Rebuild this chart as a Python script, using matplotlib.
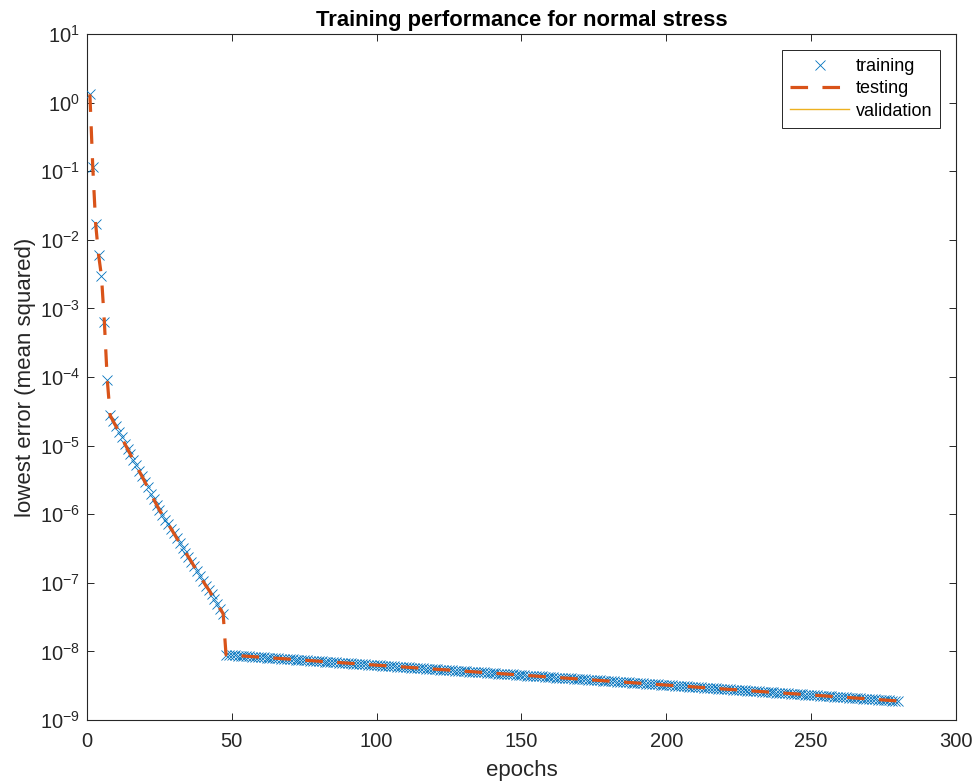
import numpy as np
import matplotlib
matplotlib.use('Agg')
import matplotlib.pyplot as plt

plt.rcParams['font.family'] = ['Liberation Sans', 'DejaVu Sans']

# epochs 1..280, errors as log10 values
epochs = np.arange(1, 281)

# first epochs, one marker each (1..7)
early_log10 = [0.12, -0.94, -1.77, -2.22, -2.53, -3.20, -4.04]

# steady part before the drop (8..47)
mid_log10 = [-4.56, -4.64, -4.72, -4.80, -4.88, -4.97, -5.05, -5.13, -5.21, -5.29,
             -5.37, -5.45, -5.53, -5.61, -5.70, -5.78, -5.86, -5.94, -6.01, -6.08,
             -6.14, -6.21, -6.28, -6.35, -6.42, -6.49, -6.56, -6.62, -6.69, -6.76,
             -6.83, -6.90, -6.97, -7.04, -7.10, -7.17, -7.24, -7.31, -7.38, -7.45]

# long tail after the drop (48..280)
tail_log10 = [
    -8.050, -8.053, -8.056, -8.059, -8.062, -8.064, -8.067, -8.070, -8.073, -8.076,
    -8.079, -8.082, -8.085, -8.088, -8.091, -8.093, -8.096, -8.099, -8.102, -8.105,
    -8.108, -8.111, -8.114, -8.117, -8.120, -8.122, -8.125, -8.128, -8.131, -8.134,
    -8.137, -8.140, -8.143, -8.146, -8.149, -8.151, -8.154, -8.157, -8.160, -8.163,
    -8.166, -8.169, -8.172, -8.175, -8.178, -8.180, -8.183, -8.186, -8.189, -8.192,
    -8.195, -8.198, -8.201, -8.204, -8.207, -8.209, -8.212, -8.215, -8.218, -8.221,
    -8.224, -8.227, -8.230, -8.233, -8.236, -8.238, -8.241, -8.244, -8.247, -8.250,
    -8.253, -8.256, -8.259, -8.262, -8.265, -8.267, -8.270, -8.273, -8.276, -8.279,
    -8.282, -8.285, -8.288, -8.291, -8.294, -8.296, -8.299, -8.302, -8.305, -8.308,
    -8.311, -8.314, -8.317, -8.320, -8.323, -8.325, -8.328, -8.331, -8.334, -8.337,
    -8.340, -8.343, -8.346, -8.349, -8.352, -8.354, -8.357, -8.360, -8.363, -8.366,
    -8.369, -8.372, -8.375, -8.378, -8.381, -8.383, -8.386, -8.389, -8.392, -8.395,
    -8.398, -8.401, -8.404, -8.407, -8.410, -8.412, -8.415, -8.418, -8.421, -8.424,
    -8.427, -8.430, -8.433, -8.436, -8.439, -8.441, -8.444, -8.447, -8.450, -8.453,
    -8.456, -8.459, -8.462, -8.465, -8.468, -8.470, -8.473, -8.476, -8.479, -8.482,
    -8.485, -8.488, -8.491, -8.494, -8.497, -8.499, -8.502, -8.505, -8.508, -8.511,
    -8.514, -8.517, -8.520, -8.523, -8.526, -8.528, -8.531, -8.534, -8.537, -8.540,
    -8.543, -8.546, -8.549, -8.552, -8.555, -8.557, -8.560, -8.563, -8.566, -8.569,
    -8.572, -8.575, -8.578, -8.581, -8.584, -8.586, -8.589, -8.592, -8.595, -8.598,
    -8.601, -8.604, -8.607, -8.610, -8.613, -8.615, -8.618, -8.621, -8.624, -8.627,
    -8.630, -8.633, -8.636, -8.639, -8.642, -8.644, -8.647, -8.650, -8.653, -8.656,
    -8.659, -8.662, -8.665, -8.668, -8.671, -8.673, -8.676, -8.679, -8.682, -8.685,
    -8.688, -8.691, -8.694, -8.697, -8.700, -8.702, -8.705, -8.708, -8.711, -8.714,
    -8.717, -8.720, -8.723]

train_err = 10.0 ** np.array(early_log10 + mid_log10 + tail_log10)
# testing curve sits right on top of the training one
test_err = train_err.copy()
# no validation curve shows up in the plot, only its legend entry
valid_epochs = []
valid_err = []

fig = plt.figure(figsize=(9.73, 7.83), dpi=100)
ax = fig.add_axes([0.0894, 0.0805, 0.8931, 0.8761])

ax.plot(epochs, train_err, 'x', color='#0072BD', markersize=7, markeredgewidth=0.6,
        label='training', zorder=3)
ax.plot(epochs, test_err, '--', color='#D95319', linewidth=2.3, dashes=(5.5, 4.5),
        label='testing', zorder=4)
ax.plot(valid_epochs, valid_err, '-', color='#EDB120', linewidth=1.0, label='validation')

ax.set_yscale('log')
ax.set_xlim(0, 300)
ax.set_ylim(1e-9, 1e1)
ax.set_xticks(np.arange(0, 301, 50))
ax.set_yticks([10.0 ** p for p in range(-9, 2)])

ax.tick_params(which='both', direction='in', top=True, right=True, colors='#262626',
               labelsize=14.5)
ax.tick_params(which='major', length=5, width=0.7)
ax.tick_params(which='minor', length=3, width=0.6)
ax.tick_params(axis='x', pad=9)
ax.tick_params(axis='y', pad=5)
for s in ax.spines.values():
    s.set_color('#262626')
    s.set_linewidth(0.8)

ax.set_xlabel('epochs', fontsize=16, color='#262626', labelpad=6)
ax.set_ylabel('lowest error (mean squared)', fontsize=16, color='#262626', labelpad=3)
ax.set_title('Training performance for normal stress', fontsize=15.8, fontweight='bold',
             pad=6)

leg = ax.legend(loc='upper right', bbox_to_anchor=(0.982, 0.977), borderaxespad=0,
                fontsize=13, fancybox=False, framealpha=1, edgecolor='#262626',
                handlelength=3.3, handletextpad=0.35, labelspacing=0.3,
                borderpad=0.45)
leg.get_frame().set_linewidth(0.7)

fig.savefig('out.png', dpi=100)
